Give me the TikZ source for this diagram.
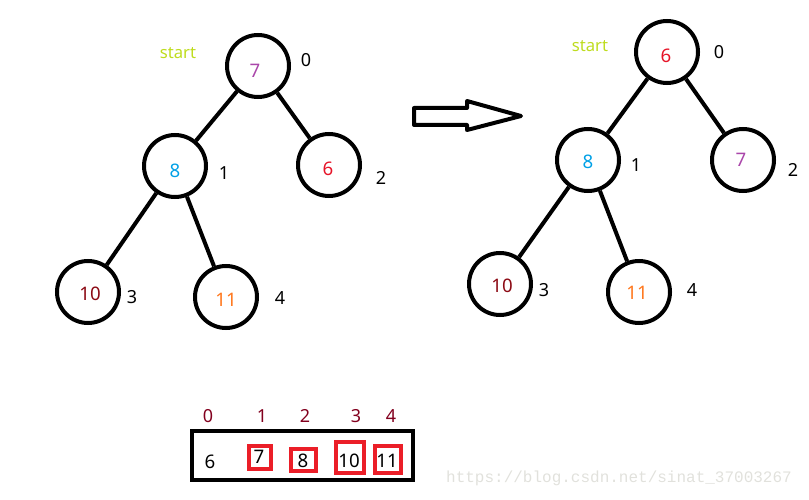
\documentclass[tikz,border=0pt]{standalone}
\usepackage{fontspec}
\setmainfont{Noto Sans}
\newfontfamily\wmfont{Liberation Mono}
\definecolor{cpurple}{RGB}{170,70,170}
\definecolor{cblue}{RGB}{0,160,230}
\definecolor{cred}{RGB}{230,20,40}
\definecolor{cdred}{RGB}{140,10,20}
\definecolor{corange}{RGB}{255,120,30}
\definecolor{cgreen}{RGB}{190,220,30}
\definecolor{cidx}{RGB}{130,0,30}
\definecolor{cbox}{RGB}{235,30,40}
\definecolor{cwm}{RGB}{225,225,220}
\begin{document}
\begin{tikzpicture}[x=0.75pt,y=-0.75pt,
  heapnode/.style={circle,draw=black,line width=3pt,minimum size=46.5pt,inner sep=0pt},
  edge/.style={line width=3pt},
  val/.style={font=\fontsize{14}{16}\selectfont,inner sep=0pt},
  idx/.style={font=\fontsize{13.5}{16}\selectfont,inner sep=0pt},
  startlbl/.style={font=\fontsize{12.5}{14}\selectfont,text=cgreen,inner sep=0pt},
  redbox/.style={draw=cbox,line width=3pt},
  arraybox/.style={draw=black,line width=3pt}]
\useasboundingbox (0,0) rectangle (809,499);
% left tree
\node[heapnode] (a0) at (258,66) {};
\node[heapnode] (a1) at (175,166) {};
\node[heapnode] (a2) at (329,165) {};
\node[heapnode] (a3) at (88,292) {};
\node[heapnode] (a4) at (226,297) {};
\draw[edge] (a0) -- (a1);
\draw[edge] (a0) -- (a2);
\draw[edge] (a1) -- (a3);
\draw[edge] (a1) -- (a4);
\node[val,text=cpurple] (va0) at (255,71) {7};
\node[val,text=cblue] (va1) at (175,171) {8};
\node[val,text=cred] (va2) at (328,169) {6};
\node[val,text=cdred] (va3) at (90,294) {10};
\node[val,text=corange] (va4) at (226,300) {11};
\node[idx] (la0) at (306,60) {0};
\node[idx] (la1) at (224,173) {1};
\node[idx] (la2) at (381,178) {2};
\node[idx] (la3) at (132,297) {3};
\node[idx] (la4) at (280,298) {4};
\node[startlbl] (sa) at (178,53) {start};
% right tree
\node[heapnode] (b0) at (667,52) {};
\node[heapnode] (b1) at (588,160) {};
\node[heapnode] (b2) at (743,160) {};
\node[heapnode] (b3) at (500,284) {};
\node[heapnode] (b4) at (639,292) {};
\draw[edge] (b0) -- (b1);
\draw[edge] (b0) -- (b2);
\draw[edge] (b1) -- (b3);
\draw[edge] (b1) -- (b4);
\node[val,text=cred] (vb0) at (666,56) {6};
\node[val,text=cblue] (vb1) at (588,162) {8};
\node[val,text=cpurple] (vb2) at (741,160) {7};
\node[val,text=cdred] (vb3) at (502,286) {10};
\node[val,text=corange] (vb4) at (637,293) {11};
\node[idx] (lb0) at (719,52) {0};
\node[idx] (lb1) at (636,165) {1};
\node[idx] (lb2) at (793,170) {2};
\node[idx] (lb3) at (544,290) {3};
\node[idx] (lb4) at (692,290) {4};
\node[startlbl] (sb) at (590,46) {start};
% block arrow
\draw[line width=3pt,line join=round] (414,108) -- (467,108) -- (467,101) -- (521,116) -- (467,130) -- (467,125) -- (414,125) -- cycle;
% array
\draw[arraybox] (192,431) rectangle (413,480);
\draw[redbox] (249,446) rectangle (271,469);
\draw[redbox] (291,449) rectangle (316,471);
\draw[redbox] (336,442) rectangle (364,473);
\draw[redbox] (375,446) rectangle (401,473);
\node[val] (c0) at (210,462) {6};
\node[val] (c1) at (259,457) {7};
\node[val] (c2) at (303,461) {8};
\node[val] (c3) at (349,461) {10};
\node[val] (c4) at (387,461) {11};
\node[idx,text=cidx] (i0) at (208,416) {0};
\node[idx,text=cidx] (i1) at (262,416) {1};
\node[idx,text=cidx] (i2) at (305,416) {2};
\node[idx,text=cidx] (i3) at (356,416) {3};
\node[idx,text=cidx] (i4) at (391,416) {4};
\node[font=\wmfont\fontsize{12}{14}\selectfont,text=cwm,inner sep=0pt] (wm) at (619,478) {https://blog.csdn.net/sinat\_37003267};
\end{tikzpicture}
\end{document}
